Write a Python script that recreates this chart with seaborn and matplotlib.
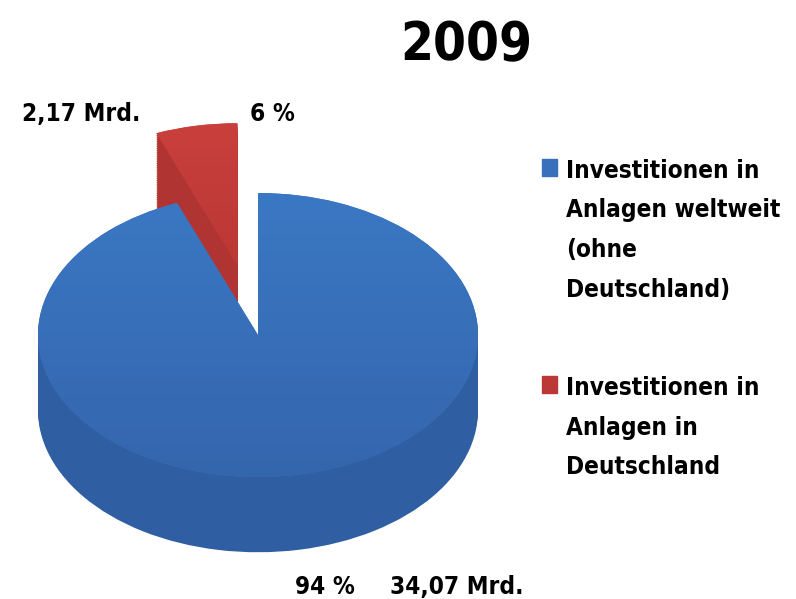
import numpy as np
import matplotlib.pyplot as plt
import seaborn as sns
from matplotlib.patches import Rectangle
from matplotlib.colors import LinearSegmentedColormap

title = '2009'
categories = ['Investitionen in\nAnlagen weltweit\n(ohne\nDeutschland)',
              'Investitionen in\nAnlagen in\nDeutschland']
shares = [94, 6]
amounts = ['34,07 Mrd.', '2,17 Mrd.']
pct_labels = ['94 %', '6 %']

sns.set_style('white')
plt.rcParams['font.family'] = ['DejaVu Sans']
plt.rcParams['font.stretch'] = 'condensed'
plt.rcParams['font.weight'] = 'bold'
plt.rcParams['text.color'] = 'black'

top_colors = ['#3a77c3', '#c63d3b']
side_colors = ['#2f5fa2', '#b03432']
grad = [('#3466ad', '#3d7dca'), ('#a52d2b', '#cb403d')]

W, H = 796, 599
fig = plt.figure(figsize=(W / 100, H / 100), dpi=100)
ax = fig.add_axes([0, 0, 520 / W, 1])

# fake 3d: stack pies downward, top face last
depth = 0.53
n = 40
for i in range(n + 1):
    off = -depth * (1 - i / n)
    cols = top_colors if i == n else side_colors
    wedges, _ = ax.pie(shares, colors=cols, startangle=90, counterclock=False,
                       explode=[0, 0.5], center=(0, off),
                       wedgeprops=dict(linewidth=0))

# vertical shading on the top faces
yy = np.linspace(0, 1, 256).reshape(-1, 1)
for w, (c0, c1) in zip(wedges, grad):
    cmap = LinearSegmentedColormap.from_list('g', [c0, c1])
    im = ax.imshow(yy, cmap=cmap, origin='lower', extent=(-1.3, 1.3, -1.0, 1.6),
                   aspect='auto', zorder=3)
    im.set_clip_path(w)

# squash circle into ellipse: 220 px wide radius, 142 px tall radius
cx, cy = 258, 335
ax.set_aspect('auto')
ax.set_xlim(-cx / 220, (520 - cx) / 220)
ax.set_ylim(-(H - cy) / 142, cy / 142)
ax.axis('off')

fs = 17.5
def fy(py):
    return 1 - py / H

fig.text(466 / W, fy(60), title, fontsize=38, ha='center', va='baseline')
fig.text(22 / W, fy(121), amounts[1], fontsize=fs, ha='left', va='baseline')
fig.text(250 / W, fy(121), pct_labels[1], fontsize=fs, ha='left', va='baseline')
fig.text(295 / W, fy(594), pct_labels[0], fontsize=fs, ha='left', va='baseline')
fig.text(390 / W, fy(594), amounts[0], fontsize=fs, ha='left', va='baseline')

# legend, one text per line so the box sits next to the first line
for lab, col, (sq, base) in zip(categories, ['#3870bb', '#bb3836'],
                                [(159, 178), (376, 395)]):
    fig.patches.append(Rectangle((542 / W, fy(sq + 17)), 15 / W, 17 / H,
                                 transform=fig.transFigure, color=col))
    for k, line in enumerate(lab.split('\n')):
        fig.text(566 / W, fy(base + 39.5 * k), line, fontsize=fs,
                 ha='left', va='baseline')

plt.savefig('out.png', dpi=100)
